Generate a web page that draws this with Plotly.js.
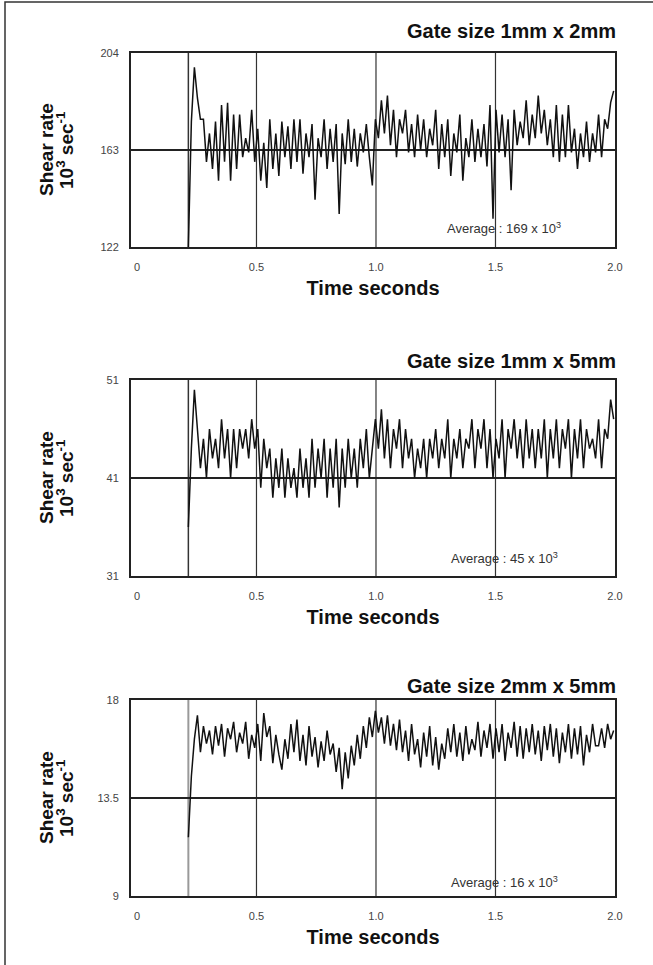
<!DOCTYPE html>
<html>
<head>
<meta charset="utf-8">
<script src="https://cdn.plot.ly/plotly-3.0.1.min.js"></script>
<style>
  html, body { margin: 0; padding: 0; background: #ffffff; }
  #chart { width: 653px; height: 965px; }
</style>
</head>
<body>
<div id="chart"></div>
<script>
// ---------------- data ----------------
const panelTitles = ["Gate size 1mm x 2mm", "Gate size 1mm x 5mm", "Gate size 2mm x 5mm"];
const averageLabels = ["Average : 169 x 10<sup>3</sup>", "Average : 45 x 10<sup>3</sup>", "Average : 16 x 10<sup>3</sup>"];
const xTitle = "Time seconds";
const yTitleLine1 = "Shear rate";
const yTitleLine2 = "10<sup>3</sup> sec<sup>-1</sup>";
const xTickVals = [0, 0.5, 1.0, 1.5, 2.0];
const xTickText = ["0", "0.5", "1.0", "1.5", "2.0"];
const yTicks1 = [122, 163, 204];
const yTicks2 = [31, 41, 51];
const yTicks3 = [9, 13.5, 18];
const yTickText3 = ["9", "13.5", "18"];
const startTime = 0.215;   // seconds, first sample
const sampleStep = 0.01262; // seconds between samples

const shear1 = [122,175,198,185,176,176,158,170,155,175,150,182,158,183,150,178,155,178,160,168,
  162,180,158,172,150,166,147,176,155,170,152,175,160,173,155,176,158,176,153,170,
  160,174,142,168,160,176,155,172,158,174,136,170,157,176,158,172,156,170,162,174,
  160,148,176,168,184,170,186,165,180,160,176,170,180,162,174,160,178,163,176,160,
  172,165,180,155,174,160,176,152,170,162,178,150,168,160,176,158,172,160,174,156,
  182,134,180,162,178,160,176,146,180,165,175,168,184,165,178,168,186,170,180,165,
  176,160,182,158,178,160,182,162,172,155,170,160,175,158,170,162,178,160,176,172,
  183,188];

const shear2 = [36,44,50,46,42,45,41,46,43,45,42,47,43,46,41,46,42,46,44,46,
  43,47,44,46,40,45,42,44,39,43,40,44,39,43,40,42,39,44,40,43,
  39,45,40,44,41,45,39,44,40,45,38,44,40,45,41,44,40,45,42,46,
  41,44,47,44,48,43,47,42,46,44,47,42,46,43,45,41,44,42,45,41,
  45,43,46,42,45,43,47,41,45,43,46,42,45,44,47,42,46,44,47,42,
  46,41,45,43,47,41,46,44,47,43,46,42,47,43,46,42,46,43,47,41,
  46,43,47,42,46,44,47,41,46,43,47,42,46,44,45,43,47,42,46,45,
  49,47];

const shear3 = [11.7,14.5,16.2,17.3,15.6,16.8,16.0,16.6,15.5,16.8,15.9,16.9,15.4,16.7,16.2,17.0,15.6,16.5,16.0,17.0,
  15.3,16.4,15.8,16.9,15.2,17.4,16.3,16.8,15.1,16.4,15.5,14.8,16.2,15.3,16.9,15.6,17.1,15.2,16.4,15.0,
  16.8,15.4,16.3,14.9,16.1,15.2,16.6,15.5,16.0,14.7,15.8,13.9,15.6,14.4,15.9,15.0,16.4,15.3,16.8,15.8,
  17.2,16.3,17.5,16.5,17.2,16.0,17.3,15.9,16.9,15.7,17.1,15.6,16.6,15.2,16.9,15.5,16.2,14.9,16.5,15.4,
  16.8,15.0,16.3,14.8,16.0,15.3,16.7,15.6,16.9,15.4,16.5,15.2,16.8,15.5,16.2,15.7,17.0,15.4,16.6,15.8,
  16.9,15.3,16.7,15.6,16.9,15.2,16.5,15.8,17.0,15.4,16.8,15.3,16.7,15.6,16.9,15.5,16.6,15.2,16.8,15.7,
  16.9,15.4,16.7,15.1,16.5,15.6,16.9,15.3,16.7,15.5,16.8,15.0,16.4,15.6,16.9,15.9,15.9,16.7,15.8,16.9,
  16.2,16.6];

// ---------------- build ----------------
function timesFor(values) {
  return values.map((_, i) => +(startTime + i * sampleStep).toFixed(4));
}

const FONT = "Liberation Sans, Arial, Helvetica, sans-serif";
const lineStyle = { color: "#111111", width: 1.5 };

const traces = [
  { x: timesFor(shear1), y: shear1, xaxis: "x", yaxis: "y", type: "scatter", mode: "lines", line: lineStyle, hoverinfo: "skip" },
  { x: timesFor(shear2), y: shear2, xaxis: "x2", yaxis: "y2", type: "scatter", mode: "lines", line: lineStyle, hoverinfo: "skip" },
  { x: timesFor(shear3), y: shear3, xaxis: "x3", yaxis: "y3", type: "scatter", mode: "lines", line: lineStyle, hoverinfo: "skip" }
];

const H = 965, L = 131, R = 38, PW = 653 - L - R;
const py = p => 1 - p / H;           // pixel-from-top -> paper y
const px = p => (p - L) / PW;        // pixel-from-left -> paper x

const panels = [
  { top: 53,  bottom: 247, titleY: 31,  avgY: 228, ticks: yTicks1, tickText: yTicks1.map(String), range: [122, 204] },
  { top: 380, bottom: 576, titleY: 361, avgY: 558, ticks: yTicks2, tickText: yTicks2.map(String), range: [31, 51] },
  { top: 700, bottom: 896, titleY: 686, avgY: 882, ticks: yTicks3, tickText: yTickText3, range: [9, 18] }
];

const layout = {
  width: 653, height: 965,
  margin: { l: L, r: R, t: 0, b: 0 },
  paper_bgcolor: "#ffffff", plot_bgcolor: "#ffffff",
  showlegend: false,
  font: { family: FONT, color: "#222222" },
  annotations: [],
  shapes: []
};

const interiorX = xTickVals.filter(v => v > xTickVals[0] && v < xTickVals[xTickVals.length - 1]);

panels.forEach((p, k) => {
  const xs = k === 0 ? "" : String(k + 1);
  layout["xaxis" + xs] = {
    domain: [0, 1], anchor: "y" + xs,
    range: [-0.025, 2.0],
    tickvals: xTickVals, ticktext: xTickText,
    tickfont: { family: FONT, size: 11, color: "#444444" },
    ticks: "", ticklabelstandoff: 9,
    showgrid: false,
    showline: true, mirror: true, linecolor: "#222222", linewidth: 2,
    zeroline: false, fixedrange: true,
    title: { text: "<b>" + xTitle + "</b>", font: { family: FONT, size: 20, color: "#111111" }, standoff: 9 }
  };
  layout["yaxis" + xs] = {
    domain: [py(p.bottom), py(p.top)], anchor: "x" + xs,
    range: p.range,
    tickvals: p.ticks, ticktext: p.tickText,
    tickfont: { family: FONT, size: 11, color: "#444444" },
    ticks: "", ticklabelstandoff: 8,
    showgrid: true, gridcolor: "#222222", gridwidth: 1.5,
    showline: true, mirror: true, linecolor: "#222222", linewidth: 2,
    zeroline: false, fixedrange: true
  };
  const midY = py((p.top + p.bottom) / 2);
  layout.annotations.push({
    xref: "paper", yref: "paper", x: px(46), y: midY, xanchor: "center", yanchor: "middle",
    text: "<b>" + yTitleLine1 + "</b>", textangle: -90, showarrow: false,
    font: { family: FONT, size: 19, color: "#111111" }
  });
  layout.annotations.push({
    xref: "paper", yref: "paper", x: px(65), y: midY, xanchor: "center", yanchor: "middle",
    text: "<b>" + yTitleLine2 + "</b>", textangle: -90, showarrow: false,
    font: { family: FONT, size: 19, color: "#111111" }
  });
  layout.annotations.push({
    xref: "paper", yref: "paper", x: px(618), y: py(p.titleY), xanchor: "right", yanchor: "middle",
    text: "<b>" + panelTitles[k] + "</b>", showarrow: false,
    font: { family: FONT, size: 20, color: "#111111" }
  });
  layout.annotations.push({
    xref: "paper", yref: "paper", x: px(504), y: py(p.avgY), xanchor: "center", yanchor: "middle",
    text: averageLabels[k], showarrow: false,
    font: { family: FONT, size: 13, color: "#333333" }
  });
  interiorX.forEach(v => {
    layout.shapes.push({
      type: "line", layer: "below", xref: "x" + xs, yref: "y" + xs + " domain",
      x0: v, x1: v, y0: 0, y1: 1,
      line: { color: "#333333", width: 1.2 }
    });
  });
  layout.shapes.push({
    type: "line", layer: "below", xref: "x" + xs, yref: "y" + xs + " domain",
    x0: startTime, x1: startTime, y0: 0, y1: 1,
    line: { color: k === 2 ? "#999999" : "#333333", width: k === 2 ? 2 : 1.5 }
  });
});

// outer frame of the figure (left and top edges visible)
layout.shapes.push({
  type: "rect", xref: "paper", yref: "paper",
  x0: px(5), x1: px(700), y0: py(1000), y1: py(2),
  line: { color: "#333333", width: 1.5 }, fillcolor: "rgba(0,0,0,0)"
});

Plotly.newPlot("chart", traces, layout, { staticPlot: true, displayModeBar: false });
</script>
</body>
</html>
